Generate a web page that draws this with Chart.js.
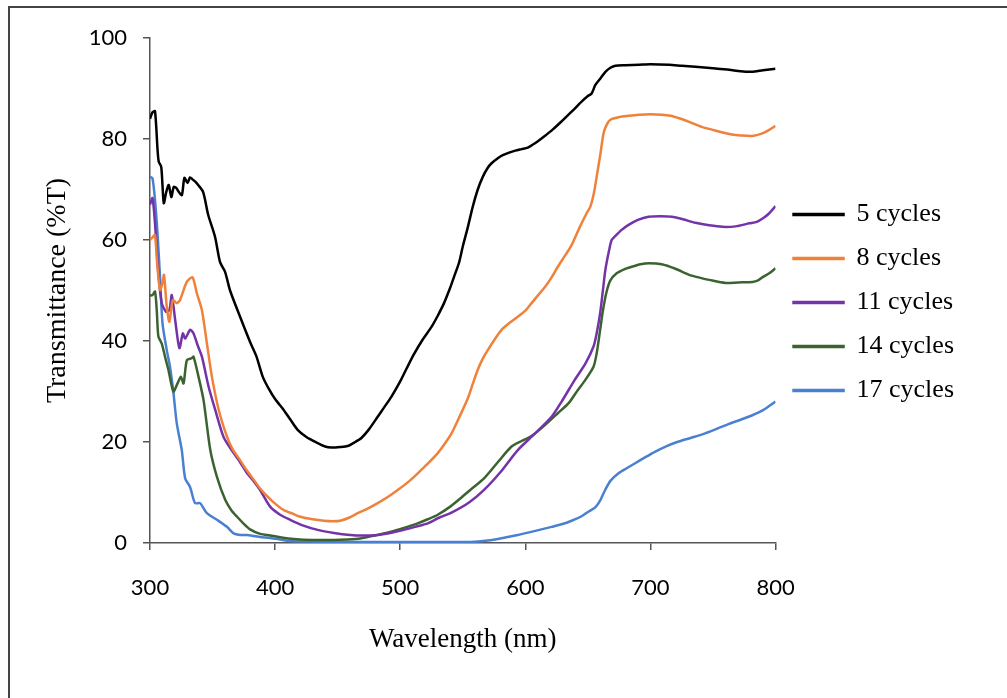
<!DOCTYPE html>
<html>
<head>
<meta charset="utf-8">
<script src="https://cdn.jsdelivr.net/npm/chart.js@4"></script>
<style>
  html, body { margin: 0; padding: 0; background: #fff; overflow: hidden; }
  #frame { position: absolute; left: 8px; top: 6px; width: 1100px; height: 800px; border: 2px solid #444; box-sizing: border-box; }
  #wrap { position: absolute; left: 0; top: 0; width: 1007px; height: 698px; }
</style>
</head>
<body>
<div id="frame"></div>
<div id="wrap"><canvas id="transmittance-chart"></canvas></div>
<script>
// wavelength (nm) and transmittance (%T)
const wl5 = [300,302,304,306,307,309,311,313,315,317,319,321,323,325.5,327.5,330,332,334,336,338.5,342.5,346.5,352,356,360,364,372,380,385,390,395,400,407,412,418,425,434,440,445,452,458,464,469,475,482,487,493,500,505,511,518,525,530,535,540,543,547,550,554,558,562,566,570,573,578,582,587,592,597,602,608,615,622,629,637,645,650,653,656,660,664,668,672,680,691,700,715,725,736,750,763,772,781,790,800];
const t5 = [84,85.3,85.5,78,75.5,74.5,67.3,69.5,70.9,68.5,70.5,70.3,69.5,68.9,72.3,71.3,72.4,72,71.6,70.9,69.5,65,60.6,55.6,53.7,50,44.8,39.8,37,33,30.5,28.5,26.3,24.5,22.4,21,19.8,19.1,18.9,19,19.2,20,20.8,22.5,25,26.8,29,32,34.5,37.4,40.3,42.8,45,47.5,50.6,52.7,55.5,58.7,62.5,66.6,70,72.5,74.3,75.2,76.2,76.8,77.3,77.7,78,78.3,79.2,80.5,81.9,83.5,85.4,87.4,88.5,89,90.7,92,93.3,94.1,94.5,94.6,94.7,94.8,94.7,94.5,94.3,94,93.7,93.4,93.3,93.6,93.9];

const wl8 = [300,302,304,305.5,308,310,311.2,313.4,315.5,318.2,321.4,324,329.4,334,337.5,341.5,345.5,349.5,355,361.6,366,372,377,383,388,394,400,407,414,420,430,439,446,452,459,466,474,482,490,498,506,514,522,530,536,541,547,554,558,562,566,570,576,581,587,594,600,605,610,616,621,626,632,637,641,645,649,652,655,657,660,662.5,665,668,674.5,683,691,700,709,716,723,732,741,753,765,772,781.5,789.5,795,800];
const t8 = [60,60.5,61,56,50.1,51.5,53.1,46.8,43.8,48.1,47.5,48.1,51.7,52.6,49.4,46.1,39.5,32.9,26.3,21,18.6,16.4,14.5,12.5,10.8,9.2,7.8,6.5,5.8,5.2,4.7,4.4,4.3,4.4,5,5.9,6.8,7.9,9.1,10.5,12,13.8,15.7,17.8,19.8,21.7,24.8,28.6,31.5,34.3,36.5,38.2,40.5,42.2,43.5,44.8,46,47.5,49,50.8,52.6,54.7,57,59,61.2,63.3,65.3,66.6,69.5,72.5,77,81.1,82.8,83.8,84.3,84.6,84.8,84.9,84.8,84.6,84.1,83.3,82.4,81.6,80.9,80.7,80.6,81.1,81.8,82.6];

const wl11 = [300,302,304,306.7,309.4,312.8,315.5,317.4,320.1,323.5,326.3,328.1,332.1,334.8,338,341.5,346.8,352.2,358.8,366.9,372,377.6,383,388,396,404,412,422,434,447,460,470,482,492,503,512,522,531,541,555,567,580,594,607,621,629,640,648,654.5,657,659.8,662,664,667,669,672,677,682.5,690,698.6,708,717,726,736,747,757.6,768,779,785,790,795,800];
const t11 = [67,68.3,63.3,53.4,47.5,45.8,46.1,49.1,44.2,38.6,41.5,40.5,42.2,41.5,39.2,36.9,31,26.3,21,17.8,16,13.8,12.2,10.5,7.2,5.6,4.6,3.5,2.6,2,1.6,1.5,1.6,2,2.6,3.2,3.9,5,6,8,10.5,14,18.4,21.5,25,28,32.5,35.5,38.9,41.5,45.5,50,54.1,58,60,60.8,62,63,64,64.6,64.7,64.6,64.1,63.4,62.9,62.6,62.7,63.3,63.6,64.3,65.3,66.7];

const wl14 = [300,302,304,305.4,306.7,309.4,312,314.7,318.7,322,324.7,326.8,329.5,333.5,334.8,338.8,342.8,348.2,353.5,360.2,365,369.6,375,380,388,396,405,415,430,447,458,468,480,492,503,514,522,530,540,548,556,567,578,589,597,605,615,626,635,642,648,654.5,657,659.8,662,665,668,673,679,685,692,699,709,720,731,740,747,760,770,781.5,786,790,795,800];
const t14 = [49,49.1,49.8,46.1,40.9,39.5,36.9,34.3,30,31.6,32.9,31.6,36.2,36.6,36.9,32.9,28.3,18.4,13.1,8.5,6.5,5.2,3.8,2.7,1.8,1.5,1.1,0.8,0.6,0.6,0.7,0.9,1.5,2.2,3,3.9,4.7,5.6,7.2,8.8,10.5,12.8,16,19.1,20.2,21.2,23.2,25.7,27.8,30.3,32.3,34.9,37.5,42.2,46,49.8,52,53.4,54.2,54.7,55.2,55.4,55.2,54.3,53.1,52.5,52.1,51.5,51.6,51.7,52,52.7,53.4,54.4];

const wl17 = [300,302,304,306,308,310,313.4,316,318.8,321.4,325.4,328.1,332,336,340,345.5,353.5,361.5,366.8,372,377.6,383,388,396,404,412,425,450,500,530,556,570,582,594,608,621,629,637,645,651,655.7,660,663.8,668,674.5,681,687.8,696,703.9,713,722.6,732,741.4,752,762.8,772,781.5,790,800];
const t17 = [72.5,72.2,67.9,61.3,52.7,43.5,38.2,34.9,29.6,23.7,18.4,12.8,11.1,7.9,7.9,5.9,4.6,3.2,1.9,1.6,1.6,1.4,1.2,1,0.7,0.4,0.3,0.2,0.2,0.2,0.2,0.5,1,1.6,2.4,3.2,3.7,4.4,5.3,6.3,7,8.5,10.5,12.3,13.8,14.8,15.8,17,18.1,19.2,20.1,20.8,21.5,22.5,23.6,24.4,25.3,26.3,28];

const seriesNames = ['5 cycles', '8 cycles', '11 cycles', '14 cycles', '17 cycles'];
const seriesColors = ['#000000', '#F0813A', '#7433A8', '#3B6330', '#4A80D2'];
const xTicks = [300, 400, 500, 600, 700, 800];
const yTicks = [0, 20, 40, 60, 80, 100];

const allWl = [wl5, wl8, wl11, wl14, wl17];
const allT = [t5, t8, t11, t14, t17];

const serif = "'Liberation Serif', 'Times New Roman', serif";
const sans = "Lato, 'Liberation Sans', sans-serif";

const datasets = seriesNames.map((name, k) => ({
  label: name,
  data: allWl[k].map((x, i) => ({ x: x, y: allT[k][i] })),
  borderColor: seriesColors[k],
  backgroundColor: seriesColors[k],
  borderWidth: 2.5,
  pointRadius: 0,
  tension: 0.25,
  fill: false
}));

// nudge the legend down a little so it sits where the original one does
const legendShift = {
  id: 'legendShift',
  afterLayout(chart) {
    chart.legend.top += 12;
    chart.legend.bottom += 12;
  }
};

const ctx = document.getElementById('transmittance-chart').getContext('2d');

new Chart(ctx, {
  type: 'line',
  data: { datasets: datasets },
  plugins: [legendShift],
  options: {
    responsive: true,
    maintainAspectRatio: false,
    animation: false,
    layout: {
      padding: { left: 37, top: 38, right: 43, bottom: 35 }
    },
    plugins: {
      tooltip: { enabled: false },
      legend: {
        position: 'right',
        fullSize: false,
        labels: {
          boxWidth: 50,
          boxHeight: 1,
          padding: 18,
          color: '#000',
          font: { family: serif, size: 26 }
        }
      }
    },
    scales: {
      x: {
        type: 'linear',
        min: 300,
        max: 800,
        afterBuildTicks: (scale) => { scale.ticks = xTicks.map(v => ({ value: v })); },
        afterFit: (scale) => { scale.height = 120; },
        ticks: {
          color: '#000',
          padding: 25,
          font: { family: sans, size: 22 }
        },
        grid: {
          drawOnChartArea: false,
          drawTicks: true,
          tickLength: 7,
          color: '#555',
          lineWidth: 1.5
        },
        border: { display: true, color: '#555', width: 1.5 },
        title: {
          display: true,
          text: 'Wavelength (nm)',
          color: '#000',
          padding: { top: 0, bottom: 7 },
          font: { family: serif, size: 27 }
        }
      },
      y: {
        min: 0,
        max: 100,
        afterBuildTicks: (scale) => { scale.ticks = yTicks.map(v => ({ value: v })); },
        afterFit: (scale) => { scale.width = 113; },
        ticks: {
          color: '#000',
          padding: 16,
          font: { family: sans, size: 22 }
        },
        grid: {
          drawOnChartArea: false,
          drawTicks: true,
          tickLength: 7,
          color: '#555',
          lineWidth: 1.5
        },
        border: { display: true, color: '#555', width: 1.5 },
        title: {
          display: true,
          text: 'Transmittance (%T)',
          color: '#000',
          padding: { top: 4, bottom: 0 },
          font: { family: serif, size: 28 }
        }
      }
    }
  }
});
</script>
</body>
</html>
